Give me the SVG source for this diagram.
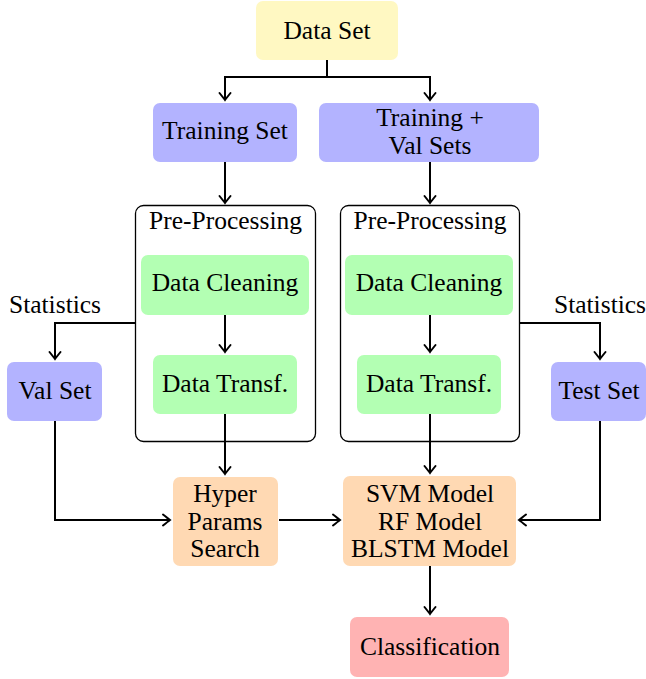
<svg xmlns="http://www.w3.org/2000/svg" width="646" height="679" viewBox="0 0 646 679">
<defs>
<style>
text{font-family:"Liberation Serif","DejaVu Serif",serif;font-size:25.5px;fill:#000;text-anchor:middle}
.c{fill:none;stroke:#000;stroke-width:2}
.yel{fill:#fff8c2}
.blu{fill:#b3b3ff}
.grn{fill:#b3ffb3}
.org{fill:#ffd9b3}
.red{fill:#ffb3b3}
.grp{fill:none;stroke:#000;stroke-width:1.3}
</style>
<marker id="ah" markerUnits="userSpaceOnUse" markerWidth="14" markerHeight="14" viewBox="-10 -7 12 14" refX="0" refY="0" orient="auto">
<path d="M-7,-5.5 Q-2,-1.5 0,0 Q-2,1.5 -7,5.5" fill="none" stroke="#000" stroke-width="2" stroke-linecap="round"/>
</marker>
</defs>
<rect width="646" height="679" fill="#fff"/>
<g id="pre-left"><rect class="grp" x="135.5" y="205.5" width="180" height="236" rx="8"/><text x="225.5" y="229">Pre-Processing</text></g>
<g id="pre-right"><rect class="grp" x="340.5" y="205.5" width="179" height="236" rx="8"/><text x="430" y="229">Pre-Processing</text></g>
<g id="connectors">
<path class="c" d="M327,60 V77 H225 V100" marker-end="url(#ah)"/>
<path class="c" d="M327,77 H430 V100" marker-end="url(#ah)"/>
<path class="c" d="M225,162 V203" marker-end="url(#ah)"/>
<path class="c" d="M430,162 V203" marker-end="url(#ah)"/>
<path class="c" d="M225,315 V352" marker-end="url(#ah)"/>
<path class="c" d="M430,315 V352" marker-end="url(#ah)"/>
<path class="c" d="M135,323 H55 V359" marker-end="url(#ah)"/>
<path class="c" d="M520,323 H600 V359" marker-end="url(#ah)"/>
<path class="c" d="M225,414 V474" marker-end="url(#ah)"/>
<path class="c" d="M430,414 V473" marker-end="url(#ah)"/>
<path class="c" d="M55,421 V520 H170" marker-end="url(#ah)"/>
<path class="c" d="M279,520 H340" marker-end="url(#ah)"/>
<path class="c" d="M600,421 V520 H519" marker-end="url(#ah)"/>
<path class="c" d="M430,566 V614" marker-end="url(#ah)"/>
</g>
<g id="data-set"><rect class="yel" x="256" y="1" width="142" height="59" rx="7"/><text x="327" y="39">Data Set</text></g>
<g id="training-set"><rect class="blu" x="153" y="103" width="144" height="59" rx="7"/><text x="225" y="139">Training Set</text></g>
<g id="training-val"><rect class="blu" x="319" y="103" width="220" height="59" rx="7"/><text x="430" y="126">Training +</text><text x="430" y="154">Val Sets</text></g>
<g id="clean-left"><rect class="grn" x="141" y="255" width="168" height="60" rx="7"/><text x="225" y="291">Data Cleaning</text></g>
<g id="transf-left"><rect class="grn" x="153" y="355" width="144" height="59" rx="7"/><text x="225" y="392">Data Transf.</text></g>
<g id="clean-right"><rect class="grn" x="345" y="255" width="168" height="60" rx="7"/><text x="429" y="291">Data Cleaning</text></g>
<g id="transf-right"><rect class="grn" x="357" y="355" width="144" height="59" rx="7"/><text x="429" y="392">Data Transf.</text></g>
<g id="stat-left"><text x="55" y="313">Statistics</text></g>
<g id="stat-right"><text x="600" y="313">Statistics</text></g>
<g id="val-set"><rect class="blu" x="7" y="362" width="95" height="59" rx="7"/><text x="55" y="399">Val Set</text></g>
<g id="test-set"><rect class="blu" x="551" y="362" width="95" height="59" rx="7"/><text x="599" y="399">Test Set</text></g>
<g id="hyper"><rect class="org" x="173" y="477" width="105" height="89" rx="7"/><text x="225" y="502">Hyper</text><text x="225" y="530">Params</text><text x="225" y="557">Search</text></g>
<g id="models"><rect class="org" x="343" y="476" width="173" height="90" rx="7"/><text x="430" y="502">SVM Model</text><text x="430" y="530">RF Model</text><text x="430" y="557">BLSTM Model</text></g>
<g id="classification"><rect class="red" x="350" y="617" width="159" height="60" rx="7"/><text x="430" y="655">Classification</text></g>
</svg>
